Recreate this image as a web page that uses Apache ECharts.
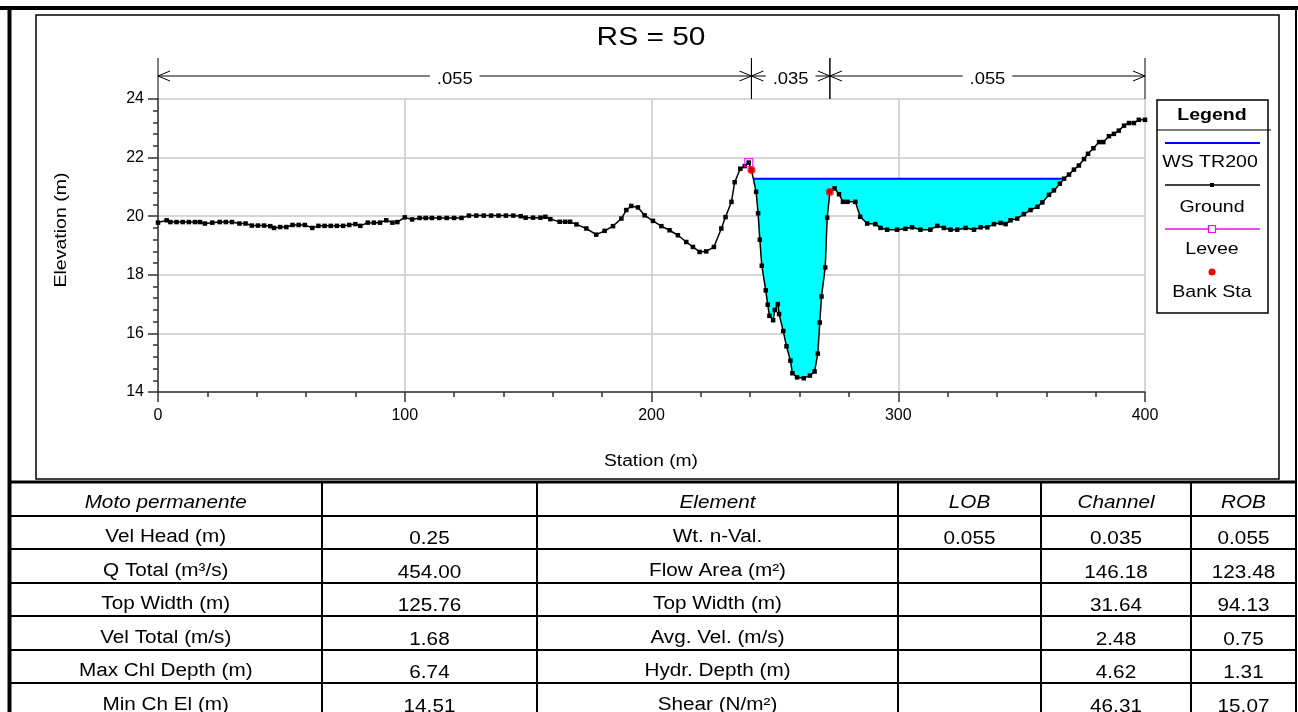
<!DOCTYPE html>
<html>
<head>
<meta charset="utf-8">
<script src="https://cdn.jsdelivr.net/npm/echarts@6/dist/echarts.min.js"></script>
<style>
  html, body { margin: 0; padding: 0; background: #fff; }
  #main { width: 1298px; height: 712px; }
</style>
</head>
<body>
<div id="main"></div>
<script>
// ground profile: station (m) / elevation (m)
var groundSta = [0, 3.5, 5, 7.5, 10, 12.5, 15, 17, 19, 22, 25, 27.5, 30, 33, 35.5, 38, 40.5, 43, 45.5, 47,
  49.5, 52, 54.5, 57, 59.5, 62.5, 65, 67.5, 70, 72.5, 75, 77.5, 80, 82, 85, 87.5, 90, 92.5, 95, 97,
  100, 103, 106, 108.5, 111, 114, 117, 120, 123, 126, 129, 132, 135, 138, 141, 144, 147, 149, 152, 155,
  157, 159, 162.8, 165, 167, 169.6, 173.6, 177.6, 181, 184.4, 187.8, 189.8, 191.8, 194.5, 197.2, 200.6, 204, 207.3, 210.7, 214.1,
  216.8, 219.5, 222.2, 225.3, 228.3, 230, 232.4, 233.7, 236, 237.8, 239.4, 240.5, 242.4, 243.2, 243.9, 244.7, 246.3, 247.1, 247.8, 249.3,
  250, 251.2, 251.7, 253.4, 254.7, 256.3, 257.1, 259, 261.7, 264.2, 266.1, 267.4, 268.2, 268.9, 270.4, 271.2, 272.3, 274.2, 276, 277.6,
  279.4, 282.6, 284.6, 287.4, 290.7, 292.8, 295.5, 299.5, 302.9, 305.6, 309, 313, 315.8, 318.5, 321.2, 323.9, 327.3, 330.7, 333.4, 336.1,
  338.8, 341.5, 343.5, 345.5, 348.2, 350.9, 353.6, 356.4, 358.4, 361.1, 363.1, 365.5, 367.2, 369.2, 371.2, 373.2, 375.3, 376.9, 379.1, 381.4,
  383.1, 385.4, 387.4, 389.4, 391.5, 393.5, 395.5, 397.5, 400];
var groundElev = [19.78, 19.86, 19.80, 19.80, 19.80, 19.80, 19.80, 19.80, 19.75, 19.78, 19.80, 19.80, 19.80, 19.75, 19.75, 19.68, 19.68, 19.68, 19.66, 19.60,
  19.63, 19.63, 19.70, 19.70, 19.70, 19.60, 19.67, 19.67, 19.67, 19.67, 19.67, 19.70, 19.73, 19.67, 19.78, 19.78, 19.78, 19.86, 19.78, 19.80,
  19.96, 19.89, 19.94, 19.94, 19.94, 19.94, 19.94, 19.94, 19.94, 20.02, 20.02, 20.02, 20.02, 20.02, 20.02, 20.02, 20.00, 19.95, 19.95, 19.95,
  19.98, 19.90, 19.81, 19.81, 19.81, 19.72, 19.58, 19.37, 19.50, 19.66, 19.92, 20.21, 20.35, 20.30, 20.03, 19.84, 19.66, 19.52, 19.35, 19.12,
  18.95, 18.78, 18.80, 18.95, 19.58, 19.97, 20.49, 21.16, 21.62, 21.71, 21.83, 21.58, 20.83, 20.10, 19.20, 18.31, 17.47, 16.98, 16.60, 16.45,
  16.80, 17.00, 16.66, 16.08, 15.56, 15.07, 14.64, 14.50, 14.47, 14.56, 14.70, 15.31, 16.37, 17.26, 18.25, 19.95, 20.83, 20.95, 20.75, 20.49,
  20.49, 20.49, 19.98, 19.75, 19.73, 19.60, 19.54, 19.54, 19.57, 19.62, 19.54, 19.54, 19.67, 19.60, 19.54, 19.54, 19.60, 19.54, 19.62, 19.62,
  19.73, 19.77, 19.73, 19.86, 19.92, 20.07, 20.21, 20.32, 20.47, 20.73, 20.88, 21.11, 21.28, 21.42, 21.59, 21.73, 21.95, 22.13, 22.32, 22.53,
  22.53, 22.73, 22.81, 22.92, 23.09, 23.18, 23.18, 23.29, 23.29];

var wsElev = 21.28;
var wsSta = [241.3, 367.2];
var leveeSta = [239.4];
var leveeElev = [21.83];
var bankSta = [240.5, 272.3];
var bankElev = [21.58, 20.83];

// manning n bands above the plot
var nStart = [0, 240.5, 272.3];
var nEnd = [240.5, 272.3, 400];
var nLabels = ['.055', '.035', '.055'];

// table below the chart
var headLeft = ['Moto permanente', ''];
var rowNames = ['Vel Head (m)', 'Q Total (m³/s)', 'Top Width (m)', 'Vel Total (m/s)', 'Max Chl Depth (m)', 'Min Ch El (m)'];
var rowValues = ['0.25', '454.00', '125.76', '1.68', '6.74', '14.51'];
var headRight = ['Element', 'LOB', 'Channel', 'ROB'];
var elemNames = ['Wt. n-Val.', 'Flow Area (m²)', 'Top Width (m)', 'Avg. Vel. (m/s)', 'Hydr. Depth (m)', 'Shear (N/m²)'];
var lobValues = ['0.055', '', '', '', '', ''];
var chanValues = ['0.035', '146.18', '31.64', '2.48', '4.62', '46.31'];
var robValues = ['0.055', '123.48', '94.13', '0.75', '1.31', '15.07'];

var FONT = "'Liberation Sans', Arial, sans-serif";
var STRETCH = 1.15; // the original text is a bit wider than Arial

var groundData = groundSta.map(function (s, i) { return [s, groundElev[i]]; });

var graphics = [];
function line(x1, y1, x2, y2, w) {
  graphics.push({ type: 'line', shape: { x1: x1, y1: y1, x2: x2, y2: y2 }, style: { stroke: '#000', lineWidth: w }, silent: true });
}
function text(t, x, y, size, opts) {
  opts = opts || {};
  graphics.push({
    type: 'text', x: x, y: y, silent: true,
    scaleX: opts.sx || STRETCH, rotation: opts.rot || 0,
    style: {
      text: t, x: 0, y: 0, fill: '#000', fontSize: size, fontFamily: FONT,
      fontStyle: opts.italic ? 'italic' : 'normal', fontWeight: opts.bold ? 'bold' : 'normal',
      align: 'center', verticalAlign: 'middle'
    }
  });
}

// frame
line(0, 8, 1298, 8, 4);
line(9.5, 6, 9.5, 712, 4);
line(1296, 6, 1296, 712, 2);
graphics.push({ type: 'rect', shape: { x: 36, y: 15, width: 1243, height: 464 }, style: { fill: 'none', stroke: '#000', lineWidth: 1.5 }, silent: true });

// titles
text('RS = 50', 651, 38, 26);
text('Station (m)', 651, 462, 16, { sx: 1.2 });
text('Elevation (m)', 62, 230, 16, { sx: 1.22, rot: Math.PI / 2 });

// table grid
var colX = [9.5, 322, 537, 898, 1041, 1191, 1296];
var rowY = [482, 516, 549, 583, 616, 650, 683, 717];
line(9.5, rowY[0], 1296, rowY[0], 3);
for (var r = 1; r < rowY.length; r++) line(9.5, rowY[r], 1296, rowY[r], 2);
for (var c = 1; c < colX.length - 1; c++) line(colX[c], rowY[0], colX[c], 712, 2);
function cx(c) { return (colX[c] + colX[c + 1]) / 2; }
function cy(r, off) { return (rowY[r] + rowY[r + 1]) / 2 + off; }

text(headLeft[0], cx(0), cy(0, 4), 18, { italic: true });
for (var h = 0; h < headRight.length; h++) text(headRight[h], cx(2 + h), cy(0, 4), 18, { italic: true });
for (var i = 0; i < rowNames.length; i++) {
  text(rowNames[i], cx(0), cy(i + 1, 5), 18);
  text(rowValues[i], cx(1), cy(i + 1, 7), 18);
  text(elemNames[i], cx(2), cy(i + 1, 5), 18);
  text(lobValues[i], cx(3), cy(i + 1, 7), 18);
  text(chanValues[i], cx(4), cy(i + 1, 7), 18);
  text(robValues[i], cx(5), cy(i + 1, 7), 18);
}

// legend box
graphics.push({ type: 'rect', shape: { x: 1157, y: 100, width: 111, height: 213 }, style: { fill: '#fff', stroke: '#000', lineWidth: 1.5 }, silent: true });
line(1157, 130, 1271, 130, 1);
text('Legend', 1212, 115, 17, { bold: true });
graphics.push({ type: 'line', shape: { x1: 1165, y1: 143, x2: 1260, y2: 143 }, style: { stroke: '#0000ff', lineWidth: 2 }, silent: true });
text('WS TR200', 1210, 162, 17);
line(1165, 185, 1260, 185, 1.5);
graphics.push({ type: 'rect', shape: { x: 1210, y: 183, width: 4, height: 4 }, style: { fill: '#000' }, silent: true });
text('Ground', 1212, 207, 17);
graphics.push({ type: 'line', shape: { x1: 1165, y1: 229, x2: 1260, y2: 229 }, style: { stroke: '#ff00ff', lineWidth: 1.5 }, silent: true });
graphics.push({ type: 'rect', shape: { x: 1208.5, y: 225.5, width: 7, height: 7 }, style: { fill: '#fff', stroke: '#ff00ff', lineWidth: 1.2 }, silent: true });
text('Levee', 1212, 249, 17);
graphics.push({ type: 'circle', shape: { cx: 1212, cy: 272, r: 3.5 }, style: { fill: '#ff0000' }, silent: true });
text('Bank Sta', 1212, 292, 17);

var option = {
  animation: false,
  grid: { left: 158, top: 99, width: 987, height: 293 },
  xAxis: {
    type: 'value', min: 0, max: 400, interval: 100,
    axisLine: { lineStyle: { color: '#333', width: 1.5 } },
    axisTick: { length: 10, lineStyle: { color: '#333', width: 1.5 } },
    minorTick: { show: true, splitNumber: 5, length: 5, lineStyle: { color: '#333', width: 1.5 } },
    axisLabel: { fontSize: 16, color: '#000', margin: 16, fontFamily: FONT },
    splitLine: { show: true, lineStyle: { color: '#c8c8c8', width: 1.5 } }
  },
  yAxis: {
    type: 'value', min: 14, max: 24, interval: 2,
    axisLine: { show: true, lineStyle: { color: '#333', width: 1.5 } },
    axisTick: { show: true, length: 10, lineStyle: { color: '#333', width: 1.5 } },
    minorTick: { show: true, splitNumber: 5, length: 5, lineStyle: { color: '#333', width: 1.5 } },
    axisLabel: { fontSize: 16, color: '#000', margin: 14, fontFamily: FONT },
    splitLine: { show: true, lineStyle: { color: '#c8c8c8', width: 1.5 } }
  },
  graphic: graphics,
  series: [
    {
      // water in the section
      type: 'custom', z: 1,
      data: [[wsSta[0], wsElev]],
      renderItem: function (params, api) {
        var pts = [api.coord([wsSta[0], wsElev])];
        for (var k = 0; k < groundSta.length; k++) {
          if (groundSta[k] > wsSta[0] && groundSta[k] < wsSta[1]) pts.push(api.coord([groundSta[k], groundElev[k]]));
        }
        pts.push(api.coord([wsSta[1], wsElev]));
        return { type: 'polygon', shape: { points: pts }, style: { fill: '#00ffff' } };
      }
    },
    {
      name: 'WS TR200', type: 'line', z: 2, symbol: 'none',
      data: [[wsSta[0], wsElev], [wsSta[1], wsElev]],
      lineStyle: { color: '#0000ff', width: 2 }
    },
    {
      name: 'Ground', type: 'line', z: 3, data: groundData,
      symbol: 'rect', symbolSize: 4.5,
      itemStyle: { color: '#000' },
      lineStyle: { color: '#000', width: 1.5 }
    },
    {
      name: 'Levee', type: 'scatter', z: 4, symbol: 'rect', symbolSize: 8,
      data: leveeSta.map(function (s, i) { return [s, leveeElev[i]]; }),
      itemStyle: { color: 'rgba(0,0,0,0)', borderColor: '#ff00ff', borderWidth: 1.3 }
    },
    {
      name: 'Bank Sta', type: 'scatter', z: 5, symbol: 'circle', symbolSize: 8,
      data: bankSta.map(function (s, i) { return [s, bankElev[i]]; }),
      itemStyle: { color: '#ff0000' }
    },
    {
      // manning n bands
      type: 'custom', z: 6, clip: false,
      data: nStart.map(function (s, i) { return [s, nEnd[i], i]; }),
      renderItem: function (params, api) {
        var a = api.coord([api.value(0), 24]);
        var b = api.coord([api.value(1), 24]);
        var y = a[1] - 23;
        var lbl = nLabels[api.value(2)];
        var st = { stroke: '#000', lineWidth: 1, fill: 'none' };
        return {
          type: 'group',
          children: [
            { type: 'line', shape: { x1: a[0], y1: y, x2: b[0], y2: y }, style: st },
            { type: 'line', shape: { x1: a[0], y1: y - 18, x2: a[0], y2: a[1] }, style: st },
            { type: 'line', shape: { x1: b[0], y1: y - 18, x2: b[0], y2: b[1] }, style: st },
            { type: 'polyline', shape: { points: [[a[0] + 12, y - 5], [a[0], y], [a[0] + 12, y + 5]] }, style: st },
            { type: 'polyline', shape: { points: [[b[0] - 12, y - 5], [b[0], y], [b[0] - 12, y + 5]] }, style: st },
            {
              type: 'text', x: (a[0] + b[0]) / 2, y: y + 4, scaleX: STRETCH,
              style: {
                text: lbl, x: 0, y: 0, fontSize: 16, fontFamily: FONT, fill: '#000',
                align: 'center', verticalAlign: 'middle', backgroundColor: '#fff', padding: [0, 6]
              }
            }
          ]
        };
      }
    }
  ]
};

var chart = echarts.init(document.getElementById('main'));
chart.setOption(option);
</script>
</body>
</html>
